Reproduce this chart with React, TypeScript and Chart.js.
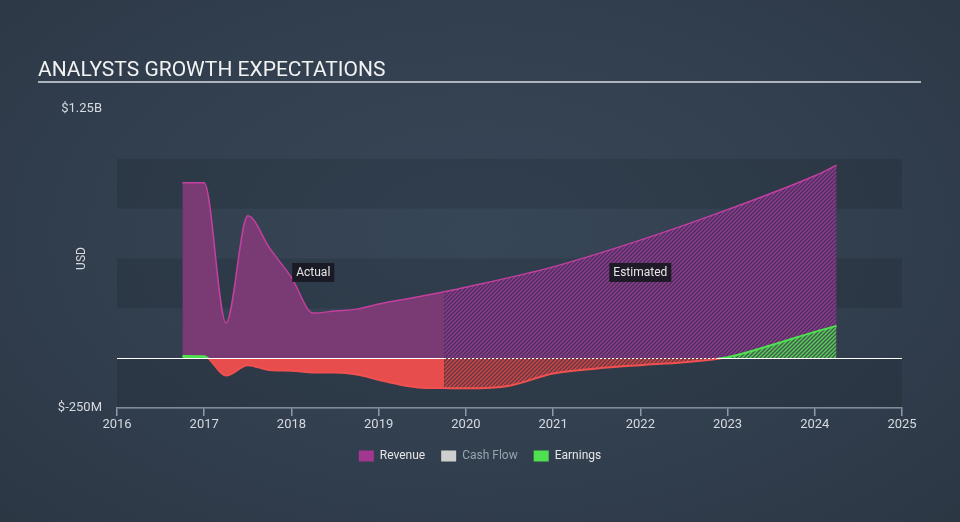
import React, { useEffect, useRef } from 'react';
import { Chart, registerables } from 'chart.js';

Chart.register(...registerables);

const titleText = 'ANALYSTS GROWTH EXPECTATIONS';
const yAxisTitle = 'USD';
const xTickYears = [2016, 2017, 2018, 2019, 2020, 2021, 2022, 2023, 2024, 2025];
const yMin = -250;
const yMax = 1250;
const yTickLabels: Record<number, string> = { 1250: '$1.25B', [-250]: '$-250M' };
const bandEdges = [-250, 0, 250, 500, 750, 1000];

const revenueActualYears = [2016.75, 2017.0, 2017.25, 2017.5, 2017.75, 2018.0, 2018.25, 2018.5, 2018.75, 2019.0, 2019.25, 2019.5, 2019.75];
const revenueActualValues = [880, 880, 177, 714, 552, 405, 226, 237, 246, 272, 292, 312, 333];
const revenueEstYears = [2019.75, 2020.0, 2021.0, 2022.0, 2023.0, 2024.0, 2024.25];
const revenueEstValues = [333, 356, 458, 592, 745, 915, 968];

const earningsActualYears = [2016.75, 2017.0, 2017.25, 2017.5, 2017.75, 2018.0, 2018.25, 2018.5, 2018.75, 2019.0, 2019.25, 2019.5, 2019.75];
const earningsActualValues = [11, 10, -87, -35, -60, -63, -72, -72, -82, -108, -133, -148, -150];
const earningsEstYears = [2019.75, 2020.0, 2020.5, 2021.0, 2021.5, 2022.0, 2022.5, 2023.0, 2023.5, 2024.0, 2024.25];
const earningsEstValues = [-150, -151, -138, -77, -52, -35, -20, 5, 65, 132, 162];

const legendNames = ['Revenue', 'Cash Flow', 'Earnings'];
const annotations = [
  { text: 'Actual', x: 2018.25, y: 430 },
  { text: 'Estimated', x: 2022.0, y: 430 },
];
const estimateStart = 2019.75;
const earningsCross = 2022.88;

const FONT = 'Roboto, "Noto Sans", sans-serif';
const C = {
  revLine: '#c2409f',
  revFill: '#7a3a73',
  green: '#4fe04f',
  red: '#f0504f',
  redFill: '#e84d4d',
  tick: '#d6dae0',
  axis: '#8f9aab',
};

function toPoints(xs: number[], ys: number[]) {
  return xs.map((x, i) => ({ x, y: ys[i] }));
}

function makeHatch(base: string, line: string, size = 4, lw = 1.5) {
  const c = document.createElement('canvas');
  c.width = size;
  c.height = size;
  const g = c.getContext('2d')!;
  g.fillStyle = base;
  g.fillRect(0, 0, size, size);
  g.strokeStyle = line;
  g.lineWidth = lw;
  g.beginPath();
  g.moveTo(-1, size + 1);
  g.lineTo(size + 1, -1);
  g.moveTo(-1, 1);
  g.lineTo(1, -1);
  g.moveTo(size - 1, size + 1);
  g.lineTo(size + 1, size - 1);
  g.stroke();
  return g.createPattern(c, 'repeat')!;
}

function earningsBorder(ctx: any) {
  const chart = ctx.chart;
  const { chartArea, scales } = chart;
  if (!chartArea || !scales.y) return C.red;
  const y0 = scales.y.getPixelForValue(0);
  const g = chart.ctx.createLinearGradient(0, chartArea.top, 0, chartArea.bottom);
  const t = Math.min(1, Math.max(0, (y0 - chartArea.top) / (chartArea.bottom - chartArea.top)));
  g.addColorStop(0, C.green);
  g.addColorStop(t, C.green);
  g.addColorStop(t, C.red);
  g.addColorStop(1, C.red);
  return g;
}

const decorPlugin = {
  id: 'decor',
  beforeDatasetsDraw(chart: any) {
    const { ctx, chartArea, scales } = chart;
    ctx.save();
    ctx.fillStyle = 'rgba(0,0,0,0.1)';
    for (let i = 0; i < bandEdges.length - 1; i += 2) {
      const yTop = scales.y.getPixelForValue(bandEdges[i + 1]);
      const yBot = scales.y.getPixelForValue(bandEdges[i]);
      ctx.fillRect(chartArea.left, yTop, chartArea.right - chartArea.left, yBot - yTop);
    }
    ctx.restore();
  },
  afterDatasetsDraw(chart: any) {
    const { ctx, chartArea, scales } = chart;
    const y0 = Math.round(scales.y.getPixelForValue(0)) + 0.5;
    const xs = scales.x.getPixelForValue(estimateStart);
    const xc = scales.x.getPixelForValue(earningsCross);
    ctx.save();
    ctx.strokeStyle = '#ffffff';
    ctx.lineWidth = 1;
    ctx.beginPath();
    ctx.moveTo(chartArea.left, y0);
    ctx.lineTo(xs, y0);
    ctx.moveTo(xc, y0);
    ctx.lineTo(chartArea.right, y0);
    ctx.stroke();
    ctx.setLineDash([2, 2]);
    ctx.beginPath();
    ctx.moveTo(xs, y0);
    ctx.lineTo(xc, y0);
    ctx.stroke();
    ctx.setLineDash([]);

    ctx.font = `12px ${FONT}`;
    ctx.textBaseline = 'middle';
    ctx.textAlign = 'center';
    for (const a of annotations) {
      const px = scales.x.getPixelForValue(a.x);
      const py = scales.y.getPixelForValue(a.y);
      const w = ctx.measureText(a.text).width + 8;
      const h = 19;
      ctx.fillStyle = 'rgba(24,24,34,0.92)';
      ctx.fillRect(px - w / 2, py - h / 2, w, h);
      ctx.fillStyle = '#e6e6e6';
      ctx.fillText(a.text, px, py + 0.5);
    }
    ctx.restore();
  },
  afterDraw(chart: any) {
    const { ctx, chartArea } = chart;
    ctx.save();
    ctx.fillStyle = '#f2f2f2';
    ctx.font = `21px ${FONT}`;
    ctx.textBaseline = 'alphabetic';
    ctx.textAlign = 'left';
    ctx.fillText(titleText, 38, 76);
    ctx.fillStyle = '#aeb4bc';
    ctx.fillRect(38, 81, 883, 2);

    ctx.translate(82, (chartArea.top + chartArea.bottom) / 2);
    ctx.rotate(-Math.PI / 2);
    ctx.font = `12px ${FONT}`;
    ctx.fillStyle = '#d6dae0';
    ctx.textAlign = 'center';
    ctx.textBaseline = 'middle';
    ctx.fillText(yAxisTitle, 0, 0);
    ctx.restore();
  },
};

export default function App() {
  const ref = useRef<HTMLCanvasElement>(null);

  useEffect(() => {
    const canvas = ref.current!;
    const revHatch = makeHatch('#4b2e5a', '#8c3d8e');
    const redHatch = makeHatch('#5f3841', '#cf4649');
    const greenHatch = makeHatch('#3b5a48', '#5cc95c');

    const chart = new Chart(canvas, {
      type: 'line',
      data: {
        datasets: [
          {
            label: 'Earnings actual',
            data: toPoints(earningsActualYears, earningsActualValues),
            borderColor: earningsBorder,
            borderWidth: 2,
            pointRadius: 0,
            cubicInterpolationMode: 'monotone',
            fill: { target: { value: 0 }, above: C.green, below: C.redFill },
          },
          {
            label: 'Earnings estimated',
            data: toPoints(earningsEstYears, earningsEstValues),
            borderColor: earningsBorder,
            borderWidth: 2,
            pointRadius: 0,
            cubicInterpolationMode: 'monotone',
            fill: { target: { value: 0 }, above: greenHatch, below: redHatch },
          },
          {
            label: 'Revenue actual',
            data: toPoints(revenueActualYears, revenueActualValues),
            borderColor: C.revLine,
            borderWidth: 1.5,
            backgroundColor: C.revFill,
            pointRadius: 0,
            cubicInterpolationMode: 'monotone',
            fill: 'origin',
          },
          {
            label: 'Revenue estimated',
            data: toPoints(revenueEstYears, revenueEstValues),
            borderColor: C.revLine,
            borderWidth: 1.5,
            backgroundColor: revHatch,
            pointRadius: 0,
            cubicInterpolationMode: 'monotone',
            fill: 'origin',
          },
        ],
      },
      options: {
        responsive: false,
        animation: false,
        events: [],
        layout: { padding: { top: 109, left: 0, right: 0, bottom: 50 } },
        scales: {
          x: {
            type: 'linear',
            min: 2016,
            max: 2025,
            afterFit: (s: any) => { s.height = 26; },
            afterBuildTicks: (s: any) => { s.ticks = xTickYears.map((v) => ({ value: v })); },
            ticks: {
              autoSkip: false,
              maxRotation: 0,
              padding: 1,
              color: C.tick,
              font: { family: FONT, size: 13 },
              callback: (v: any) => String(v),
            },
            grid: { drawOnChartArea: false, drawTicks: true, tickLength: 8, color: C.axis, lineWidth: 1.5 },
            border: { display: true, color: C.axis, width: 1.5 },
          },
          y: {
            type: 'linear',
            min: yMin,
            max: yMax,
            afterFit: (s: any) => { s.width = 117; },
            ticks: {
              stepSize: 250,
              autoSkip: false,
              padding: 15,
              color: C.tick,
              font: { family: FONT, size: 13 },
              callback: (v: any) => yTickLabels[v as number] ?? '',
            },
            grid: { display: false, drawTicks: false },
            border: { display: false },
          },
          yr: {
            type: 'linear',
            position: 'right',
            display: true,
            afterFit: (s: any) => { s.width = 58; },
            ticks: { display: false },
            grid: { display: false, drawTicks: false },
            border: { display: false },
          },
        },
        plugins: {
          tooltip: { enabled: false },
          title: { display: false },
          legend: {
            display: true,
            position: 'bottom',
            labels: {
              boxWidth: 15,
              boxHeight: 11,
              padding: 16,
              font: { family: FONT, size: 12 },
              generateLabels: () => [
                { text: legendNames[0], fillStyle: '#a3368f', strokeStyle: 'rgba(0,0,0,0)', lineWidth: 0, fontColor: '#e6e6e6', hidden: false, datasetIndex: 2 },
                { text: legendNames[1], fillStyle: '#cfcfcf', strokeStyle: 'rgba(0,0,0,0)', lineWidth: 0, fontColor: '#9aa3ae', hidden: false, datasetIndex: 0 },
                { text: legendNames[2], fillStyle: '#4fe04f', strokeStyle: 'rgba(0,0,0,0)', lineWidth: 0, fontColor: '#e6e6e6', hidden: false, datasetIndex: 1 },
              ],
            },
          },
        },
      } as any,
      plugins: [decorPlugin],
    });
    return () => chart.destroy();
  }, []);

  return (
    <div
      style={{
        position: 'absolute',
        left: 0,
        top: 0,
        width: 960,
        height: 522,
        background: 'radial-gradient(ellipse at 50% 45%, #374657 0%, #323f4f 55%, #2c3744 100%)',
      }}
    >
      <canvas ref={ref} width={960} height={522} style={{ display: 'block' }} />
    </div>
  );
}
